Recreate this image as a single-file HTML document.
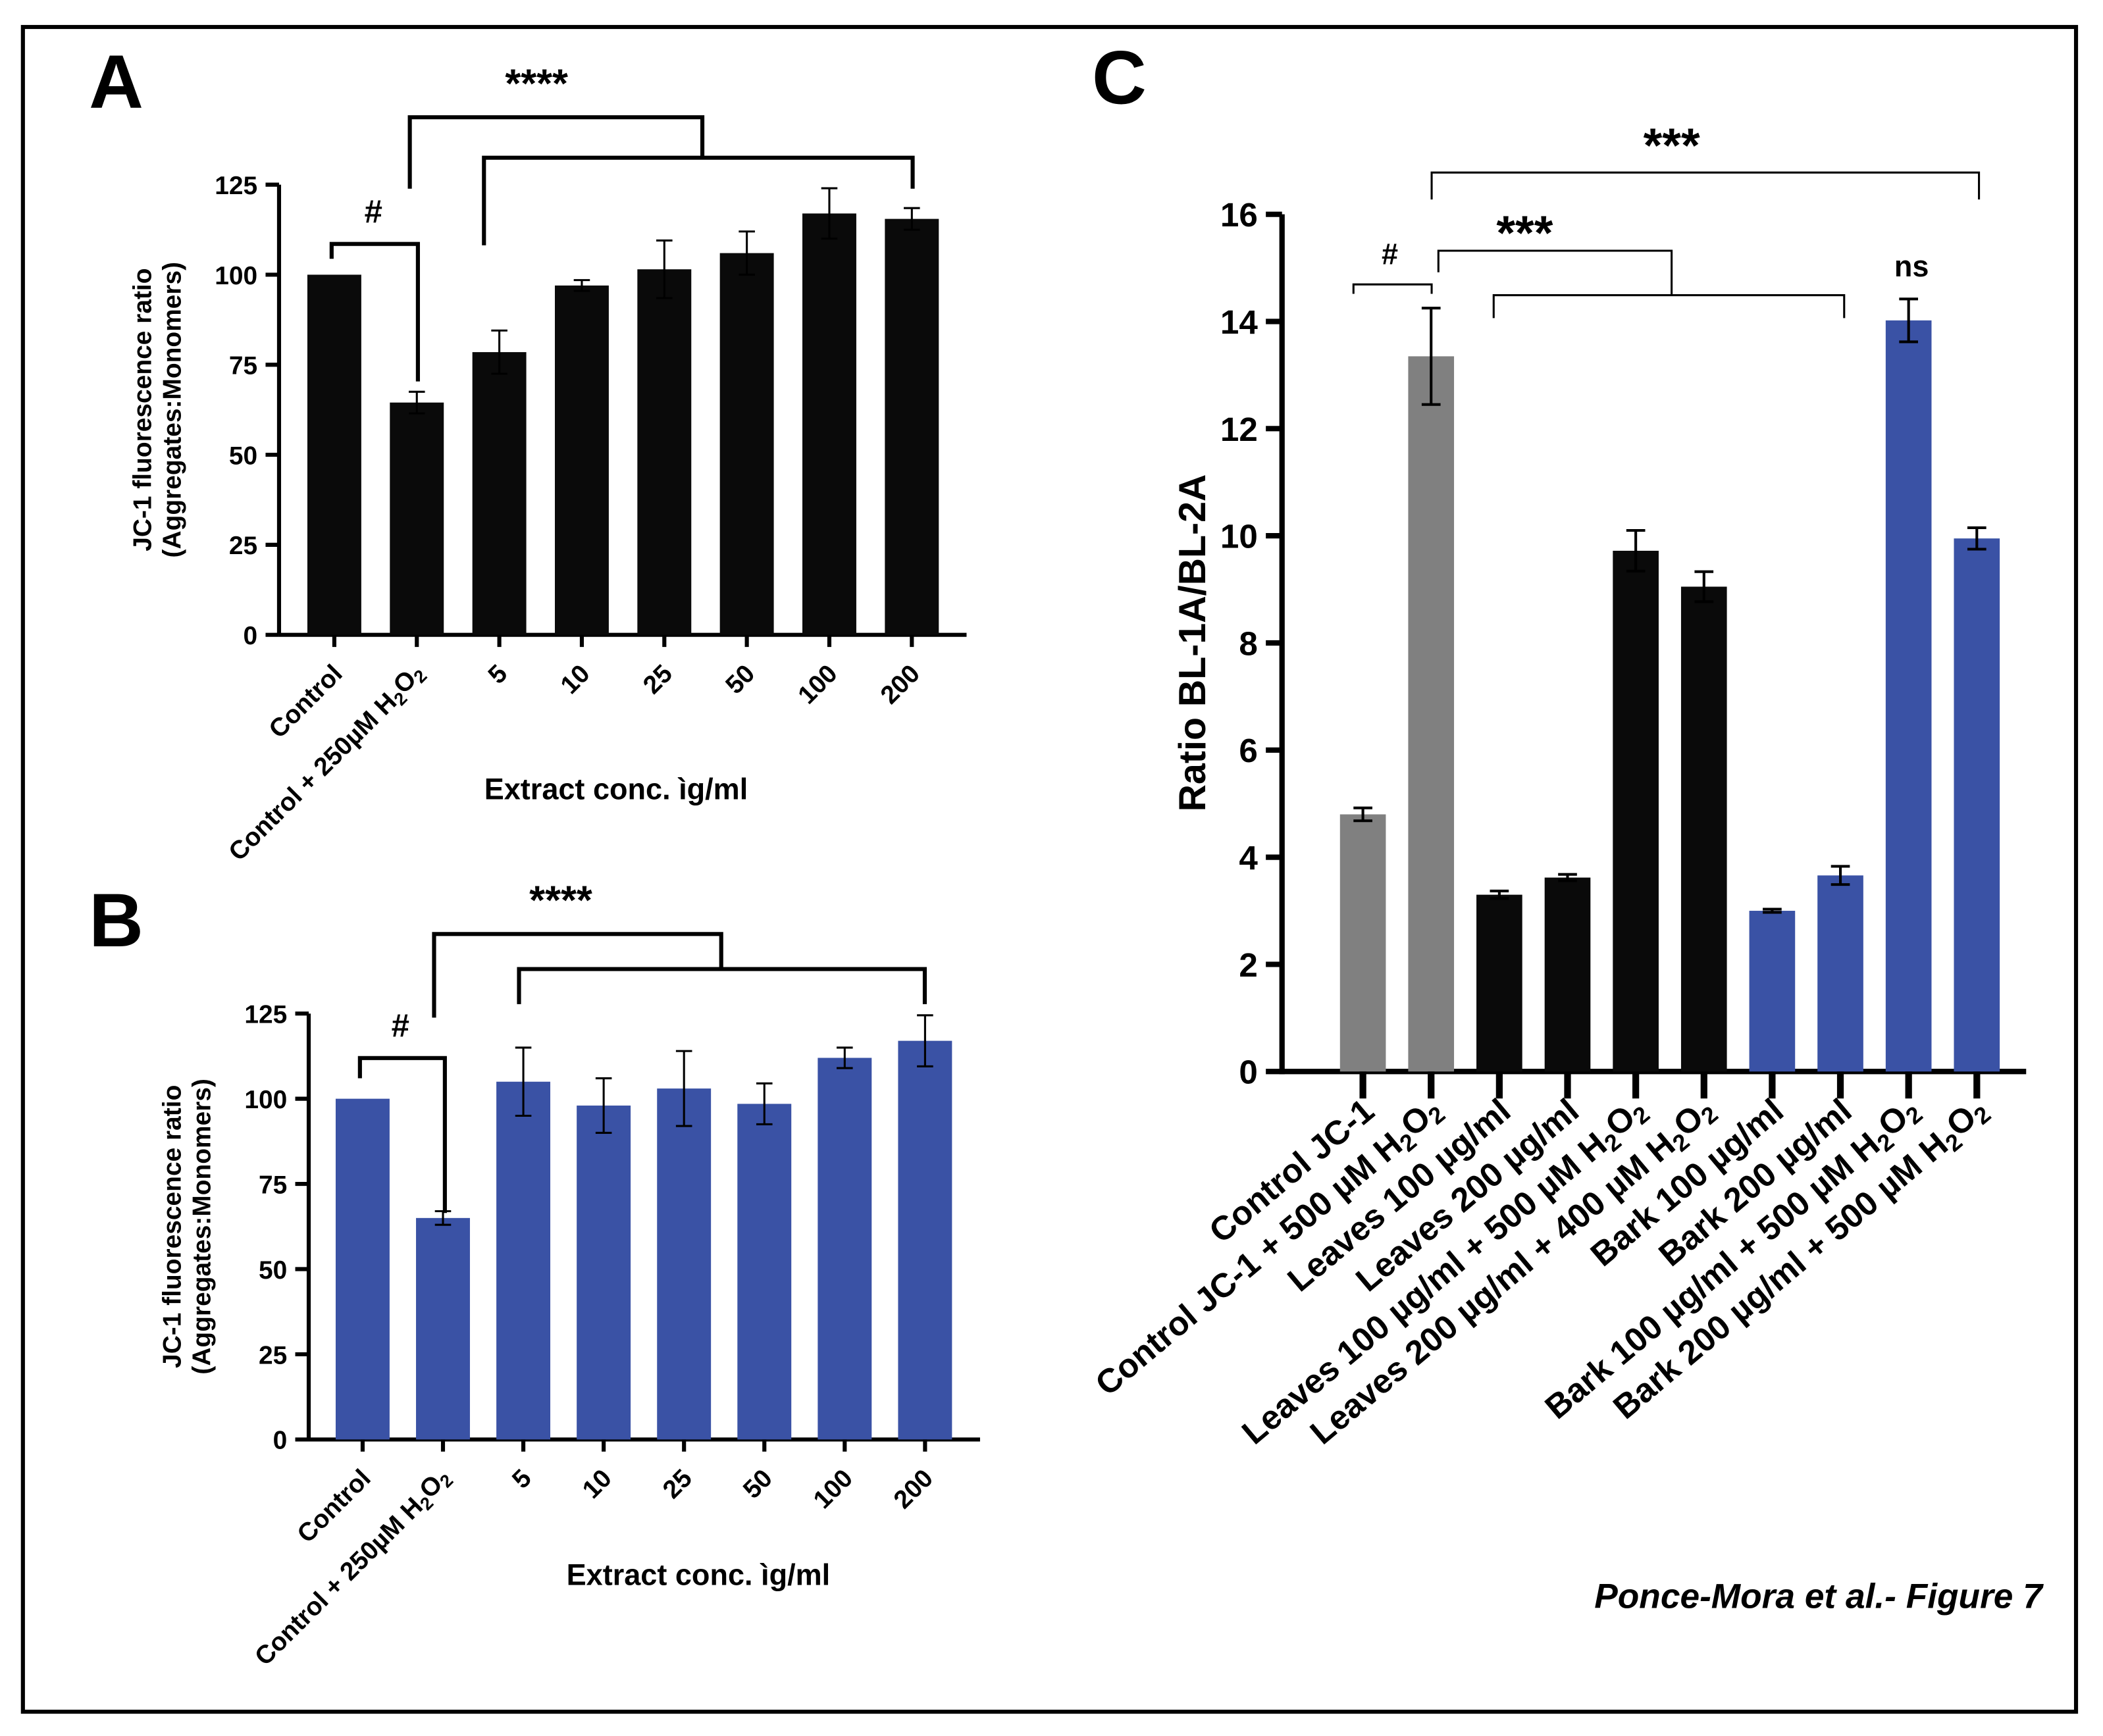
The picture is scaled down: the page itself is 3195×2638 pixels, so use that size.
<!DOCTYPE html>
<html><head><meta charset="utf-8"><style>
html,body{margin:0;padding:0;background:#fff}
svg{display:block;font-family:"Liberation Sans",Arial,sans-serif}
</style></head><body>
<svg id="fig" width="3195" height="2638" viewBox="0 0 1560 1288" xmlns="http://www.w3.org/2000/svg">
<rect x="17" y="20" width="1523" height="1250" fill="#fff" stroke="#000" stroke-width="3"/>
<text x="66" y="80" font-size="56" font-weight="bold">A</text>
<text x="66" y="702" font-size="56" font-weight="bold">B</text>
<text x="810" y="77" font-size="56" font-weight="bold">C</text>
<text x="1515" y="1193" font-size="26" font-weight="bold" font-style="italic" text-anchor="end">Ponce-Mora et al.- Figure 7</text>
<g id="gA"></g>
<g id="gB"></g>
<g id="gC"></g>
</svg>
<script>
const catsAB = ["Control","Control + 250µM H2O2","5","10","25","50","100","200"];
const valsA = [100,64.5,78.5,97,101.5,106,117,115.5];
const errA = [0,3,6,1.5,8,6,7,3];
const valsB = [100,65,105,98,103,98.5,112,117];
const errB = [0,2,10,8,11,6,3,7.5];
const ticksAB = [0,25,50,75,100,125];
const catsC = ["Control JC-1","Control JC-1 + 500 µM H2O2","Leaves 100 µg/ml","Leaves 200 µg/ml","Leaves 100 µg/ml + 500 µM H2O2","Leaves 200 µg/ml + 400 µM H2O2","Bark 100 µg/ml","Bark 200 µg/ml","Bark 100 µg/ml + 500 µM H2O2","Bark 200 µg/ml + 500 µM H2O2"];
const valsC = [4.8,13.35,3.3,3.62,9.72,9.05,3.0,3.66,14.02,9.95];
const errC = [0.12,0.9,0.07,0.06,0.38,0.28,0.03,0.17,0.4,0.2];
const ticksC = [0,2,4,6,8,10,12,14,16];

const NS="http://www.w3.org/2000/svg";
function mk(parent,tag,attrs,text){const e=document.createElementNS(NS,tag);for(const k in attrs)e.setAttribute(k,attrs[k]);if(text!==undefined)fillLabel(e,text);parent.appendChild(e);return e;}
function fillLabel(e,t){
  const parts=t.split(/(H2O2)/);
  parts.forEach(p=>{
    if(p==="H2O2"){
      ["H","2","O","2"].forEach((c,i)=>{const s=document.createElementNS(NS,"tspan");s.textContent=c;if(i%2){s.setAttribute("font-size","0.7em");s.setAttribute("dy","0.25em");}else if(i===2){s.setAttribute("dy","-0.25em");}e.appendChild(s);});
    } else if(p){const s=document.createElementNS(NS,"tspan");s.textContent=p;e.appendChild(s);}
  });
}
function line(g,x1,y1,x2,y2,w,name){const l=mk(g,"line",{x1,y1,x2,y2,stroke:"#000","stroke-width":w});


return l;}
function bracket(g,x1,x2,y,yl,yr,w,name){const p=mk(g,"path",{d:`M${x1},${yl}V${y}H${x2}V${yr}`,fill:"none",stroke:"#000","stroke-width":w});

}
function txt(g,x,y,s,attrs,name){const t=mk(g,"text",Object.assign({x,y},attrs),s);

return t;}

function panelAB(g,vals,errs,o){
  const yS=v=>o.y0-(v/125)*(o.y0-o.y125);
  const xS=i=>o.x1+i*o.step;
  line(g,o.ax,o.y125,o.ax,o.y0,3,"y-axis");
  line(g,o.ax,o.y0,o.axEnd,o.y0,3,"x-axis");
  ticksAB.forEach(t=>{line(g,o.ax-10,yS(t),o.ax,yS(t),3,"y-tick");
    txt(g,o.ax-16,yS(t)+7,String(t),{"font-size":19,"font-weight":"bold","text-anchor":"end"},"y-tick-label");});
  vals.forEach((v,i)=>{
    const cx=xS(i);
    const r=mk(g,"rect",{x:cx-20,y:yS(v),width:40,height:o.y0-yS(v),fill:o.color});
    
    
    if(errs[i]>0){line(g,cx,yS(v+errs[i]),cx,yS(v-errs[i]),1.5,"error-bar");line(g,cx-6,yS(v+errs[i]),cx+6,yS(v+errs[i]),1.5,"error-cap");line(g,cx-6,yS(v-errs[i]),cx+6,yS(v-errs[i]),1.5,"error-cap");}
    line(g,cx,o.y0,cx,o.y0+9,3,"x-tick");
    txt(g,cx+7,o.y0+30,catsAB[i],{"font-size":19,"font-weight":"bold","text-anchor":"end",transform:`rotate(-45 ${cx+7} ${o.y0+30})`},"x-tick-label");
  });
  txt(g,o.xt,o.xty,"Extract conc. ìg/ml",{"font-size":22,"font-weight":"bold","text-anchor":"middle"},"x-axis-title");
  const yc=(o.y0+o.y125)/2;
  txt(g,o.yt1,yc,"JC-1 fluorescence ratio",{"font-size":19,"font-weight":"bold","text-anchor":"middle",transform:`rotate(-90 ${o.yt1} ${yc})`},"y-axis-title");
  txt(g,o.yt1+22,yc,"(Aggregates:Monomers)",{"font-size":19,"font-weight":"bold","text-anchor":"middle",transform:`rotate(-90 ${o.yt1+22} ${yc})`},"y-axis-subtitle");
}
const gA=document.getElementById("gA"),gB=document.getElementById("gB"),gC=document.getElementById("gC");
panelAB(gA,valsA,errA,{ax:207,axEnd:717,y0:471,y125:137,x1:248,step:61.2,color:"#0a0a0a",xt:457,xty:593,yt1:112});
bracket(gA,246,310,181,192,283,3,"sig-bracket-hash");
txt(gA,277,165,"#",{"font-size":24,"font-weight":"bold","text-anchor":"middle"},"sig-hash");
bracket(gA,304,521,87,140,117,3,"sig-bracket-upper");
bracket(gA,359,677,117,182,140,3,"sig-bracket-lower");
txt(gA,398,72,"****",{"font-size":30,"font-weight":"bold","text-anchor":"middle"},"sig-stars");

panelAB(gB,valsB,errB,{ax:229,axEnd:727,y0:1068,y125:752,x1:269,step:59.6,color:"#3a52a5",xt:518,xty:1176,yt1:134});
bracket(gB,267,330,785,800,900,3,"sig-bracket-hash");
txt(gB,297,769,"#",{"font-size":24,"font-weight":"bold","text-anchor":"middle"},"sig-hash");
bracket(gB,322,535,693,755,719,3,"sig-bracket-upper");
bracket(gB,385,686,719,745,745,3,"sig-bracket-lower");
txt(gB,416,678,"****",{"font-size":30,"font-weight":"bold","text-anchor":"middle"},"sig-stars");

const colC=["#808080","#808080","#0a0a0a","#0a0a0a","#0a0a0a","#0a0a0a","#3a52a5","#3a52a5","#3a52a5","#3a52a5"];
const cY0=795,cY16=159,cAx=951;
const yC=v=>cY0-(v/16)*(cY0-cY16);
const xC=i=>1011+i*50.6;
line(gC,cAx,cY16,cAx,cY0+2,4,"y-axis");
line(gC,cAx,cY0,1503,cY0,4,"x-axis");
ticksC.forEach(t=>{line(gC,cAx-12,yC(t),cAx,yC(t),4,"y-tick");
  txt(gC,cAx-18,yC(t)+9,String(t),{"font-size":25,"font-weight":"bold","text-anchor":"end"},"y-tick-label");});
valsC.forEach((v,i)=>{
  const cx=xC(i);
  const r=mk(gC,"rect",{x:cx-17,y:yC(v),width:34,height:cY0-yC(v),fill:colC[i]});
  
  
  const e=errC[i];
  line(gC,cx,yC(v+e),cx,yC(v-e),2,"error-bar");line(gC,cx-7,yC(v+e),cx+7,yC(v+e),2,"error-cap");line(gC,cx-7,yC(v-e),cx+7,yC(v-e),2,"error-cap");
  line(gC,cx,cY0,cx,cY0+20,5,"x-tick");
  txt(gC,cx+10,cY0+32,catsC[i],{"font-size":25,"font-weight":"bold","text-anchor":"end",transform:`rotate(-40 ${cx+10} ${cY0+32})`},"x-tick-label");
});
txt(gC,894,477,"Ratio BL-1A/BL-2A",{"font-size":28,"font-weight":"bold","text-anchor":"middle",transform:"rotate(-90 894 477)"},"y-axis-title");
bracket(gC,1004,1062,211,218,218,1.5,"sig-bracket-hash");
txt(gC,1031,196,"#",{"font-size":22,"font-weight":"bold","text-anchor":"middle"},"sig-hash");
bracket(gC,1062,1468,128,148,148,1.5,"sig-bracket-top");
txt(gC,1240,120,"***",{"font-size":36,"font-weight":"bold","text-anchor":"middle"},"sig-stars-top");
bracket(gC,1067,1240,186,202,219,1.5,"sig-bracket-mid");
bracket(gC,1108,1368,219,236,236,1.5,"sig-bracket-low");
txt(gC,1131,185,"***",{"font-size":36,"font-weight":"bold","text-anchor":"middle"},"sig-stars-mid");
txt(gC,1418,205,"ns",{"font-size":22,"font-weight":"bold","text-anchor":"middle"},"sig-ns");
</script>
</body></html>
